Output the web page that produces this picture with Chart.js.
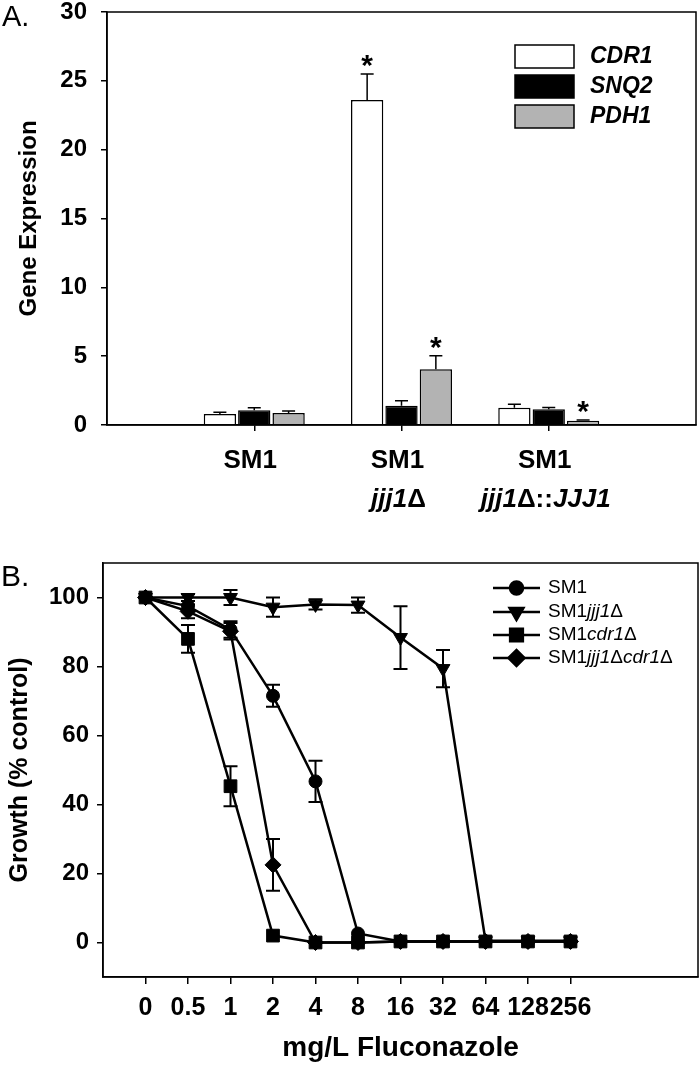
<!DOCTYPE html>
<html>
<head>
<meta charset="utf-8">
<script src="https://cdn.jsdelivr.net/npm/chart.js@4.4.1/dist/chart.umd.min.js"></script>
<style>
  html, body { margin: 0; padding: 0; background: #fff; }
  #wrap { position: relative; width: 700px; height: 1065px; }
  #chartA { position: absolute; left: 0; top: 0; }
  #chartB { position: absolute; left: 0; top: 520px; }
</style>
</head>
<body>
<div id="wrap">
  <canvas id="chartA" width="700" height="520"></canvas>
  <canvas id="chartB" width="700" height="545"></canvas>
</div>
<script>
// ---------- Panel A data ----------
const strains = ['', 'SM1', 'SM1 jjj1Δ', 'SM1 jjj1Δ::JJJ1', ''];
const strainLine1 = ['', 'SM1', 'SM1', 'SM1', ''];
const strainLine2 = [[], [], [['jjj1', true], ['Δ', false]], [['jjj1', true], ['Δ::', false], ['JJJ1', true]], []];
const geneNames = ['CDR1', 'SNQ2', 'PDH1'];
const cdr1Expr = [null, 0.8, 23.6, 1.26, null];
const cdr1Err = [null, 0.13, 1.9, 0.24, null];
const snq2Expr = [null, 1.08, 1.4, 1.14, null];
const snq2Err = [null, 0.18, 0.36, 0.14, null];
const pdh1Expr = [null, 0.88, 4.05, 0.3, null];
const pdh1Err = [null, 0.13, 0.98, 0.06, null];
const cdr1Star = [false, false, true, false, false];
const snq2Star = [false, false, false, false, false];
const pdh1Star = [false, false, true, true, false];
const exprTicks = [0, 5, 10, 15, 20, 25, 30];

// ---------- Panel B data ----------
const flcLabels = ['0', '0.5', '1', '2', '4', '8', '16', '32', '64', '128', '256'];
const growthSM1 = [100, 97.5, 90.7, 71.5, 46.7, 2.6, 0.3, 0.3, 0.3, 0.3, 0.3];
const growthSM1Err = [0, 1.5, 2.4, 3.2, 6, 0, 0, 0, 0, 0, 0];
const growthJjj1 = [100, 100, 100, 97.2, 98, 97.8, 88.4, 79.4, 0.5, 0.5, 0.5];
const growthJjj1Err = [0, 1, 2.2, 2.8, 1.5, 2.2, 9.1, 5.4, 0, 0, 0];
const growthCdr1 = [100, 88, 45.3, 2, 0, 0, 0.3, 0.3, 0.3, 0.3, 0.3];
const growthCdr1Err = [0, 4, 5.8, 0, 0, 0, 0, 0, 0, 0, 0];
const growthDouble = [100, 96, 90.2, 22.5, 0, 0, 0.3, 0.3, 0.3, 0.3, 0.3];
const growthDoubleErr = [0, 2, 2.4, 7.5, 0, 0, 0, 0, 0, 0, 0];
const growthTicks = [0, 20, 40, 60, 80, 100];

const FONT = "'Liberation Sans', Arial, sans-serif";

function drawSegments(ctx, segs, cx, y, size, weight, align) {
    let total = 0;
    const widths = segs.map(([t, it]) => {
        ctx.font = `${it ? 'italic ' : ''}${weight} ${size}px ${FONT}`;
        const w = ctx.measureText(t).width;
        total += w;
        return w;
    });
    let x = align === 'left' ? cx : cx - total / 2;
    ctx.textAlign = 'left';
    segs.forEach(([t, it], i) => {
        ctx.font = `${it ? 'italic ' : ''}${weight} ${size}px ${FONT}`;
        ctx.fillText(t, x, y);
        x += widths[i];
    });
}

// no extra room for half tick labels at the ends
function noPad(s) {
    s.paddingTop = 0; s.paddingBottom = 0; s.paddingLeft = 0; s.paddingRight = 0;
}

// frame around the plot area
const framePlugin = {
    id: 'frame',
    afterDraw(chart, args, opts) {
        const { ctx, chartArea: a } = chart;
        ctx.save();
        ctx.strokeStyle = '#000';
        ctx.lineWidth = opts.width || 1.5;
        ctx.strokeRect(a.left, a.top, a.right - a.left, a.bottom - a.top);
        ctx.restore();
    }
};

// error bars (A: upward only, B: both ways)
const errorPlugin = {
    id: 'errbars',
    afterDatasetsDraw(chart, args, opts) {
        const { ctx } = chart;
        const yScale = chart.scales.y;
        ctx.save();
        ctx.strokeStyle = '#000';
        ctx.lineWidth = opts.lineWidth || 1.5;
        chart.data.datasets.forEach((ds, di) => {
            if (!ds.errors) return;
            const meta = chart.getDatasetMeta(di);
            meta.data.forEach((el, i) => {
                const v = chart.data.datasets[di].data[i];
                const val = (v && typeof v === 'object') ? v.y : v;
                const e = ds.errors[i];
                if (val == null || !e) return;
                const x = el.x;
                const yTop = yScale.getPixelForValue(val + e);
                const yBot = opts.both ? yScale.getPixelForValue(val - e) : yScale.getPixelForValue(val);
                const cap = opts.cap || 12;
                ctx.beginPath();
                ctx.moveTo(x, yTop); ctx.lineTo(x, yBot);
                ctx.moveTo(x - cap / 2, yTop); ctx.lineTo(x + cap / 2, yTop);
                if (opts.both) { ctx.moveTo(x - cap / 2, yBot); ctx.lineTo(x + cap / 2, yBot); }
                ctx.stroke();
            });
        });
        ctx.restore();
    }
};

// asterisks above significant bars
const starPlugin = {
    id: 'stars',
    afterDatasetsDraw(chart) {
        const { ctx } = chart;
        const yScale = chart.scales.y;
        ctx.save();
        ctx.fillStyle = '#000';
        ctx.font = `bold 30px ${FONT}`;
        ctx.textAlign = 'center';
        ctx.textBaseline = 'alphabetic';
        chart.data.datasets.forEach((ds, di) => {
            if (!ds.stars) return;
            chart.getDatasetMeta(di).data.forEach((el, i) => {
                if (!ds.stars[i]) return;
                const top = yScale.getPixelForValue(ds.data[i] + (ds.errors[i] || 0));
                ctx.fillText('*', el.x, top + 1);
            });
        });
        ctx.restore();
    }
};

// group labels under panel A, legend box, panel letter
const panelAExtras = {
    id: 'panelAExtras',
    afterDraw(chart) {
        const { ctx } = chart;
        const xs = chart.scales.x;
        ctx.save();
        ctx.fillStyle = '#000';
        ctx.textBaseline = 'middle';
        strainLine1.forEach((t, i) => {
            if (!t) return;
            const x = xs.getPixelForValue(i);
            drawSegments(ctx, [[t, false]], x - 4, 461, 26, 'bold');
            if (strainLine2[i].length) drawSegments(ctx, strainLine2[i], x - 3, 500, 26, 'bold');
        });
        // legend
        const rows = [45, 75, 105];
        chart.data.datasets.forEach((ds, i) => {
            ctx.fillStyle = ds.backgroundColor;
            ctx.fillRect(515, rows[i], 59, 23);
            ctx.strokeStyle = '#000';
            ctx.lineWidth = 1.5;
            ctx.strokeRect(515, rows[i], 59, 23);
            ctx.fillStyle = '#000';
            drawSegments(ctx, [[ds.label, true]], 590, rows[i] + 12, 23, 'bold', 'left');
        });
        ctx.font = `29px ${FONT}`;
        ctx.textAlign = 'left';
        ctx.textBaseline = 'top';
        ctx.fillText('A.', 2, 3);
        ctx.restore();
    }
};

const chartA = new Chart(document.getElementById('chartA'), {
    type: 'bar',
    data: {
        labels: strains,
        datasets: [
            { label: geneNames[0], data: cdr1Expr, errors: cdr1Err, stars: cdr1Star, backgroundColor: '#ffffff', borderColor: '#000', borderWidth: 1.5 },
            { label: geneNames[1], data: snq2Expr, errors: snq2Err, stars: snq2Star, backgroundColor: '#000000', borderColor: '#000', borderWidth: 1.5 },
            { label: geneNames[2], data: pdh1Expr, errors: pdh1Err, stars: pdh1Star, backgroundColor: '#b3b3b3', borderColor: '#000', borderWidth: 1.5 }
        ]
    },
    options: {
        responsive: false,
        animation: false,
        devicePixelRatio: 1,
        layout: { autoPadding: false, padding: { top: 12, right: 4, left: 0, bottom: 0 } },
        datasets: { bar: { categoryPercentage: 0.7, barPercentage: 0.94 } },
        plugins: {
            legend: { display: false },
            tooltip: { enabled: false },
            frame: { width: 1.5 },
            errbars: { both: false, cap: 13, lineWidth: 1.5 }
        },
        scales: {
            x: {
                type: 'category',
                offset: false,
                afterFit: s => { s.height = 95; noPad(s); },
                grid: {
                    offset: false,
                    drawOnChartArea: false,
                    tickLength: 6,
                    lineWidth: 1.5,
                    color: c => (c.index === 0 || c.index === strains.length - 1) ? 'rgba(0,0,0,0)' : '#000'
                },
                border: { color: '#000', width: 1.5 },
                ticks: { callback: () => '', autoSkip: false, maxRotation: 0 }
            },
            y: {
                min: 0,
                max: 30,
                afterFit: s => { s.width = 107; noPad(s); },
                afterBuildTicks: s => { s.ticks = exprTicks.map(v => ({ value: v })); },
                grid: { drawOnChartArea: false, tickLength: 6, color: '#000', lineWidth: 1.5 },
                border: { color: '#000', width: 1.5 },
                ticks: { color: '#000', padding: 14, font: { family: FONT, size: 24, weight: 'bold' } },
                title: {
                    display: true,
                    text: 'Gene Expression',
                    color: '#000',
                    padding: { top: 15, bottom: 0 },
                    font: { family: FONT, size: 24, weight: 'bold' }
                }
            }
        }
    },
    plugins: [framePlugin, errorPlugin, starPlugin, panelAExtras]
});

// ---------- Panel B ----------
const legendB = {
    id: 'legendB',
    afterDraw(chart) {
        const { ctx } = chart;
        const rowsY = [68, 92, 115, 138];
        const names = [
            [['SM1', false]],
            [['SM1', false], ['jjj1', true], ['Δ', false]],
            [['SM1', false], ['cdr1', true], ['Δ', false]],
            [['SM1', false], ['jjj1', true], ['Δ', false], ['cdr1', true], ['Δ', false]]
        ];
        ctx.save();
        chart.data.datasets.forEach((ds, i) => {
            const y = rowsY[i];
            ctx.strokeStyle = '#000';
            ctx.lineWidth = 2.5;
            ctx.beginPath();
            ctx.moveTo(493, y); ctx.lineTo(540, y);
            ctx.stroke();
            ctx.fillStyle = '#000';
            Chart.helpers.drawPoint(ctx, {
                pointStyle: ds.pointStyle,
                radius: ds.pointRadius,
                rotation: ds.pointRotation || 0,
                borderWidth: 1
            }, 516.5, y);
            ctx.fillStyle = '#000';
            ctx.textBaseline = 'middle';
            drawSegments(ctx, names[i], 548, y, 19, 'normal', 'left');
        });
        ctx.font = `30px ${FONT}`;
        ctx.textAlign = 'left';
        ctx.textBaseline = 'top';
        ctx.fillText('B.', 1, 43);
        ctx.restore();
    }
};

function series(vals) { return vals.map((y, i) => ({ x: i, y })); }

const lineStyle = { borderColor: '#000', backgroundColor: '#000', borderWidth: 2.5, pointBorderWidth: 1, pointBorderColor: '#000', pointBackgroundColor: '#000' };

const chartB = new Chart(document.getElementById('chartB'), {
    type: 'line',
    data: {
        datasets: [
            { ...lineStyle, label: 'SM1', data: series(growthSM1), errors: growthSM1Err, pointStyle: 'circle', pointRadius: 6.5 },
            { ...lineStyle, label: 'SM1jjj1Δ', data: series(growthJjj1), errors: growthJjj1Err, pointStyle: 'triangle', pointRotation: 180, pointRadius: 8 },
            { ...lineStyle, label: 'SM1cdr1Δ', data: series(growthCdr1), errors: growthCdr1Err, pointStyle: 'rect', pointRadius: 9 },
            { ...lineStyle, label: 'SM1jjj1Δcdr1Δ', data: series(growthDouble), errors: growthDoubleErr, pointStyle: 'rectRot', pointRadius: 8 }
        ]
    },
    options: {
        responsive: false,
        animation: false,
        devicePixelRatio: 1,
        layout: { autoPadding: false, padding: { top: 43, right: 2, left: 0, bottom: 0 } },
        plugins: {
            legend: { display: false },
            tooltip: { enabled: false },
            frame: { width: 1.5 },
            errbars: { both: true, cap: 14, lineWidth: 2 }
        },
        scales: {
            x: {
                type: 'linear',
                min: -1,
                max: 13,
                afterFit: s => { s.height = 88; noPad(s); },
                afterBuildTicks: s => { s.ticks = flcLabels.map((_, i) => ({ value: i })); },
                grid: { drawOnChartArea: false, tickLength: 7, color: '#000', lineWidth: 1.5 },
                border: { color: '#000', width: 1.5 },
                ticks: {
                    color: '#000',
                    padding: 9,
                    maxRotation: 0,
                    autoSkip: false,
                    font: { family: FONT, size: 25, weight: 'bold' },
                    callback: v => flcLabels[v]
                },
                title: {
                    display: true,
                    text: 'mg/L Fluconazole',
                    color: '#000',
                    padding: { top: 0, bottom: 0 },
                    font: { family: FONT, size: 28, weight: 'bold' }
                }
            },
            y: {
                min: -10,
                max: 110,
                afterFit: s => { s.width = 103; noPad(s); },
                afterBuildTicks: s => { s.ticks = growthTicks.map(v => ({ value: v })); },
                grid: { drawOnChartArea: false, tickLength: 6, color: '#000', lineWidth: 1.5 },
                border: { color: '#000', width: 1.5 },
                ticks: { color: '#000', padding: 8, font: { family: FONT, size: 24, weight: 'bold' } },
                title: {
                    display: true,
                    text: 'Growth (% control)',
                    color: '#000',
                    padding: { top: 5, bottom: 0 },
                    font: { family: FONT, size: 25, weight: 'bold' }
                }
            }
        }
    },
    plugins: [framePlugin, errorPlugin, legendB]
});
</script>
</body>
</html>
